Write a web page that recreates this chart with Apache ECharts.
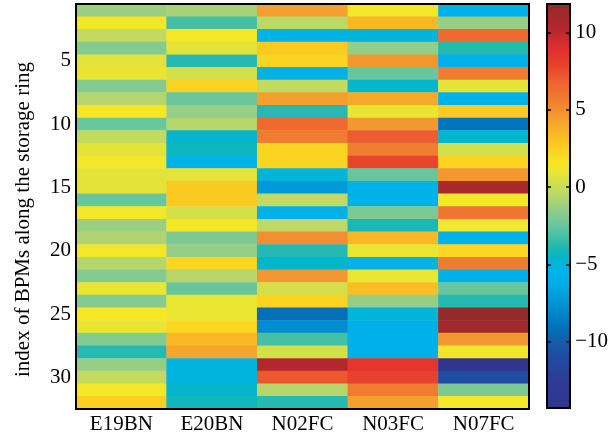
<!DOCTYPE html>
<html><head><meta charset="utf-8">
<script src="https://cdn.jsdelivr.net/npm/echarts@6/dist/echarts.min.js"></script>
<style>html,body{margin:0;padding:0;background:#fff}#c{width:611px;height:436px}</style>
</head><body><div id="c"></div>
<script>
const columns = ['E19BN', 'E20BN', 'N02FC', 'N03FC', 'N07FC'];
const rowLabels = ['1','2','3','4','5','6','7','8','9','10','11','12','13','14','15','16',
  '17','18','19','20','21','22','23','24','25','26','27','28','29','30','31','32'];

const E19BN = [-1.3, 1.3, -0.2, -1.8, 0.8, 1.0, -1.8, -0.6, 1.3, -2.5, -0.2, 0.8, 1.3, 0.8, 0.8, -2.5,
  1.3, -1.3, -0.8, 1.3, -0.6, -1.8, 1.0, -1.8, 1.5, 1.0, -1.8, -3.8, -1.4, -0.2, 1.3, 2.5];
const E20BN = [-1.0, -3.2, 1.5, 0.8, -3.8, 0.3, 2.3, -2.5, -1.4, -0.6, -4.6, -4.3, -5.3, 0.8, 2.7, 2.7,
  0.3, 1.5, -2.0, -1.4, 2.2, -0.6, -2.5, 1.0, 1.0, 2.2, 3.5, 4.2, -5.0, -5.0, -4.6, -4.2];
const N02FC = [4.4, -0.4, -5.3, 2.7, 2.3, -5.5, -0.2, 4.4, -3.8, 6.5, 5.7, 2.3, 2.3, -4.9, -7.2, -0.2,
  -5.8, -0.4, 5.0, -3.8, -4.6, 4.7, 0.3, 2.3, -9.3, -7.8, -3.2, 0.3, 10.3, 7.2, -0.6, -3.8];
const N03FC = [1.3, 3.5, -4.9, -1.4, 4.7, -2.5, -4.6, 4.0, 1.0, 4.7, 7.0, 5.6, 7.8, -2.5, -5.6, -5.6,
  -2.0, -4.1, 3.5, 1.0, -5.3, 1.0, 3.2, -1.4, -4.9, -5.8, -5.8, -5.8, 8.5, 8.0, 5.7, 4.4];
const N07FC = [-5.8, -1.4, 6.5, -3.8, -5.6, 5.7, 0.8, -5.8, 2.7, -9.0, -4.6, 0.3, 2.3, 4.7, 10.8, 1.3,
  6.0, 1.3, -6.0, 2.2, 5.7, -6.0, -2.5, -3.8, 11.8, 11.2, 4.7, 1.3, -14.2, -11.0, -2.0, 1.3];
const seriesValues = [E19BN, E20BN, N02FC, N03FC, N07FC];

const colorbarTicks = [-10, -5, 0, 5, 10];
const cMin = -14.3, cMax = 11.84;

// colour map anchor stops [value, colour]
const colorStops = [
  [-14.3, '#30358f'], [-12.5, '#2f3b93'], [-11.0, '#1f4a9f'], [-10.0, '#1a5aa8'],
  [-9.0, '#0072ba'], [-7.5, '#0092d4'], [-6.2, '#00aee8'], [-5.2, '#00b4ea'],
  [-4.5, '#00b6c8'], [-3.8, '#22b8b0'], [-2.7, '#60c4a0'], [-1.7, '#88cb90'],
  [-0.8, '#b0d470'], [0, '#cadc5a'], [0.8, '#e6e432'], [1.5, '#f8e824'],
  [2.4, '#fcd020'], [3.4, '#f9b824'], [4.5, '#f49a30'], [5.6, '#f07c30'],
  [6.7, '#ef6230'], [7.7, '#e8442c'], [8.6, '#e5302e'], [10.0, '#b5282e'], [11.84, '#8f2a2a']
];
function hex2rgb(h) { return [1, 3, 5].map(i => parseInt(h.substr(i, 2), 16)); }
function colorAt(v) {
  for (let i = 0; i < colorStops.length - 1; i++) {
    const [v0, c0] = colorStops[i], [v1, c1] = colorStops[i + 1];
    if (v <= v1 || i === colorStops.length - 2) {
      const t = Math.max(0, Math.min(1, (v - v0) / (v1 - v0)));
      const a = hex2rgb(c0), b = hex2rgb(c1);
      return 'rgb(' + a.map((x, k) => Math.round(x + (b[k] - x) * t)).join(',') + ')';
    }
  }
}
const colormap = [];
for (let i = 0; i < 64; i++) colormap.push(colorAt(cMin + (i + 0.5) * (cMax - cMin) / 64));

const heatData = [];
columns.forEach((c, ci) => rowLabels.forEach((r, ri) => heatData.push([ci, ri, seriesValues[ci][ri]])));

const font = 'Liberation Serif';
const txt = { fontFamily: font, fontSize: 21, color: '#000' };
const lineStyle = { color: '#000', width: 2 };
const tickStyle = { color: '#000', width: 1.5 };
const rowTick = (i) => (i + 1) % 5 === 0;
const fmt = v => v < 0 ? '\u2212' + Math.abs(v) : String(v);

const chart = echarts.init(document.getElementById('c'), null, { renderer: 'canvas' });
chart.setOption({
  animation: false,
  backgroundColor: '#fff',
  grid: [
    { left: 76, top: 4, width: 453, height: 405 },
    { left: 547, top: 4, width: 24, height: 404 }
  ],
  xAxis: [
    { gridIndex: 0, type: 'category', data: columns, position: 'bottom', z: 10,
      axisLine: { lineStyle }, axisTick: { inside: true, alignWithLabel: true, length: 4, lineStyle: tickStyle },
      axisLabel: Object.assign({ margin: 5 }, txt), splitLine: { show: false } },
    { gridIndex: 0, type: 'category', data: columns, position: 'top', z: 10,
      axisLine: { lineStyle }, axisTick: { inside: true, alignWithLabel: true, length: 4, lineStyle: tickStyle },
      axisLabel: { show: false }, splitLine: { show: false } },
    { gridIndex: 1, type: 'value', min: 0, max: 1, position: 'bottom', z: 10,
      axisLine: { onZero: false, lineStyle }, axisTick: { show: false }, axisLabel: { show: false }, splitLine: { show: false } },
    { gridIndex: 1, type: 'value', min: 0, max: 1, position: 'top', z: 10,
      axisLine: { onZero: false, lineStyle }, axisTick: { show: false }, axisLabel: { show: false }, splitLine: { show: false } }
  ],
  yAxis: [
    { gridIndex: 0, type: 'category', data: rowLabels, inverse: true, position: 'left', z: 10,
      name: 'index of BPMs along the storage ring', nameLocation: 'middle', nameGap: 42,
      nameTextStyle: Object.assign({ padding: [0, 26, 0, 0] }, txt),
      axisLine: { lineStyle },
      axisTick: { inside: true, alignWithLabel: true, interval: rowTick, length: 4, lineStyle: tickStyle },
      axisLabel: Object.assign({ interval: rowTick, margin: 5 }, txt), splitLine: { show: false } },
    { gridIndex: 0, type: 'category', data: rowLabels, inverse: true, position: 'right', z: 10,
      axisLine: { lineStyle },
      axisTick: { inside: true, alignWithLabel: true, interval: rowTick, length: 4, lineStyle: tickStyle },
      axisLabel: { show: false }, splitLine: { show: false } },
    { gridIndex: 1, type: 'value', min: cMin, max: cMax, position: 'right', z: 10,
      axisLine: { onZero: false, lineStyle },
      axisTick: { inside: true, length: 4, customValues: colorbarTicks, lineStyle: tickStyle },
      axisLabel: Object.assign({ customValues: colorbarTicks, formatter: fmt, margin: 5 }, txt),
      splitLine: { show: false } },
    { gridIndex: 1, type: 'value', min: cMin, max: cMax, position: 'left', z: 10,
      axisLine: { onZero: false, lineStyle },
      axisTick: { inside: true, length: 4, customValues: colorbarTicks, lineStyle: tickStyle },
      axisLabel: { show: false }, splitLine: { show: false } }
  ],
  visualMap: {
    type: 'continuous', min: cMin, max: cMax, calculable: false, seriesIndex: 0,
    left: 547, top: 4, itemWidth: 24, itemHeight: 404, padding: 0, text: null,
    hoverLink: false, inRange: { color: colormap }
  },
  series: [{
    type: 'heatmap', xAxisIndex: 0, yAxisIndex: 0, data: heatData,
    itemStyle: { borderWidth: 0 }, emphasis: { disabled: true }
  }]
});
</script></body></html>
